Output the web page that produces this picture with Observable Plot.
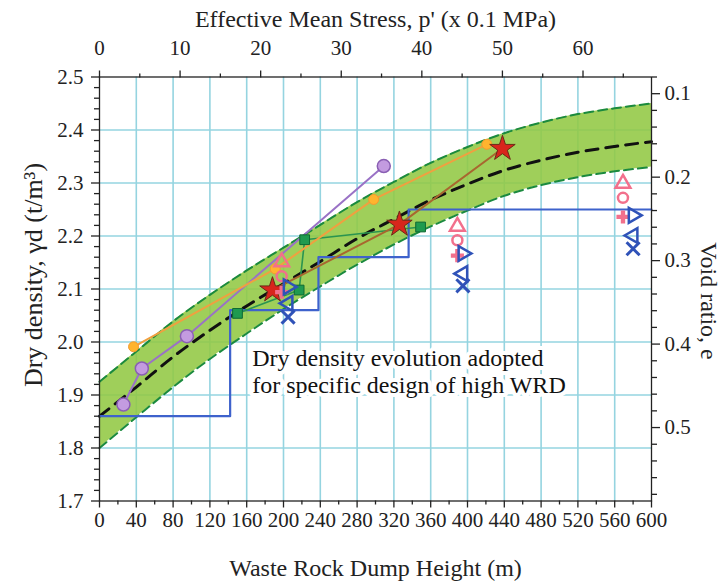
<!DOCTYPE html>
<html><head><meta charset="utf-8">
<script src="https://cdn.jsdelivr.net/npm/d3@7"></script>
<script src="https://cdn.jsdelivr.net/npm/@observablehq/plot@0.6"></script>
<style>
body{margin:0;background:#fff}
svg, svg text, svg g {font-family:"Liberation Serif","Times New Roman",serif !important}
</style>
</head><body><div id="chart"></div>
<script>
// ---- axis / tick values ----
const heightMajor = d3.range(0, 601, 40);
const heightMinor = d3.range(20, 600, 40);
const densityMajor = [1.7, 1.8, 1.9, 2.0, 2.1, 2.2, 2.3, 2.4, 2.5];
const densityMinor = d3.range(1.72, 2.5, 0.02).filter(v => Math.abs(v * 10 - Math.round(v * 10)) > 1e-6);
const densityGrid = [1.8, 1.9, 2.0, 2.1, 2.2, 2.3, 2.4];
const heightGrid = d3.range(40, 600, 40);
const stressMajor = [0, 10, 20, 30, 40, 50, 60];
const stressMinor = [5, 15, 25, 35, 45, 55, 65];
const stressMax = 68.5;           // p' at 600 m
const voidMajor = [0.1, 0.2, 0.3, 0.4, 0.5];
const voidMinor = [0.08, 0.12, 0.14, 0.16, 0.18, 0.22, 0.24, 0.26, 0.28, 0.32, 0.34, 0.36, 0.38, 0.42, 0.44, 0.46, 0.48, 0.52, 0.54, 0.56, 0.58];
const voidTop = 0.08, voidBottom = 0.588; // e at γd = 2.5 and 1.7

// ---- envelope band ----
const bandH      = [0, 40, 80, 120, 160, 200, 240, 280, 320, 360, 400, 440, 480, 520, 560, 600];
const bandUpper  = [1.925, 1.982, 2.039, 2.089, 2.135, 2.178, 2.221, 2.264, 2.302, 2.338, 2.368, 2.394, 2.414, 2.430, 2.441, 2.450];
const bandCenter = [1.860, 1.915, 1.972, 2.022, 2.068, 2.110, 2.152, 2.195, 2.232, 2.268, 2.298, 2.324, 2.343, 2.358, 2.369, 2.378];
const bandLower  = [1.800, 1.858, 1.915, 1.968, 2.016, 2.062, 2.105, 2.146, 2.184, 2.218, 2.248, 2.276, 2.296, 2.311, 2.322, 2.330];

// ---- design step line ----
const stepH = [0, 142, 238, 336, 600];
const stepD = [1.86, 2.06, 2.16, 2.25, 2.25];

// ---- test series ----
const purpleH = [26, 46, 95, 309];
const purpleD = [1.882, 1.950, 2.011, 2.332];
const orangeH = [37, 191, 298, 421];
const orangeD = [1.991, 2.138, 2.269, 2.373];
const starH = [188, 326, 438];
const starD = [2.098, 2.222, 2.365];
const squareH = [150, 217, 223, 349];
const squareD = [2.054, 2.098, 2.193, 2.217];

// ---- field markers ----
const pinkH = [198, 389, 569];
const pinkTriD = [2.151, 2.218, 2.299];
const pinkCircD = [2.124, 2.192, 2.272];
const pinkPlusD = [2.094, 2.163, 2.236];
const blueH = [205, 395, 580];
const blueRightD = [2.104, 2.167, 2.239];
const blueLeftD = [2.073, 2.129, 2.201];
const blueXD = [2.047, 2.106, 2.176];

const annotation = {h: 166, d: 1.946, text: "Dry density evolution adopted\nfor specific design of high WRD"};

const zip = (xs, ys) => xs.map((x, i) => ({x, y: ys[i]}));
const band = bandH.map((h, i) => ({h, hi: bandUpper[i], mid: bandCenter[i], lo: bandLower[i]}));
const hOfP = p => p * 600 / stressMax;
const pOfH = h => Math.round(h * stressMax / 600);
const dOfE = e => 2.5 - (e - voidTop) * 0.8 / (voidBottom - voidTop);
const eOfD = d => voidTop + (2.5 - d) * (voidBottom - voidTop) / 0.8;

const FF = "Liberation Serif";
const tickFont = 21, titleFont = 24;
const pinkC = "#f2708c", blueC = "#2f52b8";

const chart = Plot.plot({
  width: 724, height: 584,
  marginTop: 76.5, marginRight: 73, marginBottom: 83.5, marginLeft: 99,
  style: {fontFamily: FF, fontSize: tickFont + "px", color: "#222", background: "white", overflow: "visible"},
  x: {domain: [0, 600]},
  y: {domain: [1.7, 2.5]},
  marks: [
    Plot.gridX(heightGrid, {stroke: "#95d4e0", strokeOpacity: 1, strokeWidth: 1.6}),
    Plot.gridY(densityGrid, {stroke: "#95d4e0", strokeOpacity: 1, strokeWidth: 1.6}),
    Plot.areaY(band, {x: "h", y1: "lo", y2: "hi", fill: "#92c843", fillOpacity: 0.88, curve: "monotone-x"}),
    Plot.line(band, {x: "h", y: "hi", stroke: "#1b8a3e", strokeWidth: 2, strokeDasharray: "9,5", curve: "monotone-x"}),
    Plot.line(band, {x: "h", y: "lo", stroke: "#1b8a3e", strokeWidth: 2, strokeDasharray: "9,5", curve: "monotone-x"}),
    Plot.line(band, {x: "h", y: "mid", stroke: "#111", strokeWidth: 3, strokeDasharray: "12,8", curve: "monotone-x"}),
    Plot.line(zip(stepH, stepD), {x: "x", y: "y", stroke: "#3e62cc", strokeWidth: 2.2, curve: "step-after"}),
    Plot.line(zip(squareH, squareD), {x: "x", y: "y", stroke: "#2a9450", strokeWidth: 1.6}),
    Plot.line(zip(purpleH, purpleD), {x: "x", y: "y", stroke: "#9a72c6", strokeWidth: 2}),
    Plot.line(zip(orangeH, orangeD), {x: "x", y: "y", stroke: "#f0a040", strokeWidth: 2}),
    Plot.line(zip(starH, starD), {x: "x", y: "y", stroke: "#a8672f", strokeWidth: 2}),
    Plot.dot(zip(squareH, squareD), {x: "x", y: "y", symbol: "square", r: 5.5, fill: "#1f9a4f", stroke: "#0e6a33", strokeWidth: 1}),
    Plot.dot(zip(purpleH, purpleD), {x: "x", y: "y", r: 6.5, fill: "#c39be0", stroke: "#8a5fb3", strokeWidth: 1.5}),
    Plot.dot(zip(orangeH, orangeD), {x: "x", y: "y", r: 5, fill: "#ffb42e", stroke: "#f39a30", strokeWidth: 1}),
    Plot.dot(zip(starH, starD), {x: "x", y: "y", symbol: "star", r: 8, fill: "#d8261c", stroke: "#6b2a18", strokeWidth: 1}),
    Plot.dot(zip(pinkH, pinkTriD), {x: "x", y: "y", symbol: "triangle", r: 5.5, fill: "none", stroke: pinkC, strokeWidth: 2.5}),
    Plot.dot(zip(pinkH, pinkCircD), {x: "x", y: "y", r: 5, fill: "none", stroke: pinkC, strokeWidth: 2.5}),
    Plot.dot(zip(pinkH, pinkPlusD), {x: "x", y: "y", symbol: "cross", r: 5.5, fill: pinkC, stroke: "none"}),
    Plot.dot(zip(blueH, blueRightD), {x: "x", y: "y", symbol: "triangle", rotate: 90, r: 5.5, fill: "none", stroke: blueC, strokeWidth: 2.5}),
    Plot.dot(zip(blueH, blueLeftD), {x: "x", y: "y", symbol: "triangle", rotate: -90, r: 5.5, fill: "none", stroke: blueC, strokeWidth: 2.5}),
    Plot.dot(zip(blueH, blueXD), {x: "x", y: "y", symbol: "times", r: 6, stroke: blueC, strokeWidth: 3}),
    Plot.text([annotation], {x: "h", y: "d", text: "text", textAnchor: "start", lineAnchor: "middle", lineHeight: 1.13, fontSize: titleFont, fontFamily: FF, fill: "#111", stroke: "white", strokeWidth: 8}),
    Plot.frame({stroke: "#222", strokeWidth: 1.3}),
    // bottom axis
    Plot.axisX(heightMajor, {anchor: "bottom", tickSize: 7, tickPadding: 4, fontSize: tickFont, fontFamily: FF, label: null, stroke: "#222", strokeWidth: 1.3}),
    Plot.axisX(heightMinor, {anchor: "bottom", tickSize: 4, tickFormat: () => "", label: null, stroke: "#222", strokeWidth: 1.3}),
    // top axis (effective mean stress)
    Plot.axisX(stressMajor.map(hOfP), {anchor: "top", tickSize: 7, tickPadding: 15, fontSize: tickFont, fontFamily: FF, tickFormat: pOfH, label: null, stroke: "#222", strokeWidth: 1.3}),
    Plot.axisX(stressMinor.map(hOfP), {anchor: "top", tickSize: 4, tickFormat: () => "", label: null, stroke: "#222", strokeWidth: 1.3}),
    // left axis
    Plot.axisY(densityMajor, {anchor: "left", tickSize: 8, tickPadding: 8, fontSize: tickFont, fontFamily: FF, tickFormat: d3.format(".1f"), label: null, stroke: "#222", strokeWidth: 1.3}),
    Plot.axisY(densityMinor, {anchor: "left", tickSize: 5, tickFormat: () => "", label: null, stroke: "#222", strokeWidth: 1.3}),
    // right axis (void ratio)
    Plot.axisY(voidMajor.map(dOfE), {anchor: "right", tickSize: 8, tickPadding: 5, fontSize: tickFont, fontFamily: FF, tickFormat: d => d3.format(".1f")(eOfD(d)), label: null, stroke: "#222", strokeWidth: 1.3}),
    Plot.axisY(voidMinor.map(dOfE), {anchor: "right", tickSize: 5, tickFormat: () => "", label: null, stroke: "#222", strokeWidth: 1.3}),
    // titles
    Plot.text(["Effective Mean Stress, p' (x 0.1 MPa)"], {frameAnchor: "top", dy: -58, lineAnchor: "middle", fontSize: titleFont, fontFamily: FF, fill: "#222"}),
    Plot.text(["Waste Rock Dump Height (m)"], {frameAnchor: "bottom", dy: 67, lineAnchor: "middle", fontSize: titleFont, fontFamily: FF, fill: "#222"}),
    Plot.text(["Dry density, γd (t/m³)"], {frameAnchor: "left", dx: -66, dy: -14, rotate: -90, textAnchor: "middle", lineAnchor: "middle", fontSize: 26, fontFamily: FF, fill: "#222"}),
    Plot.text(["Void ratio, e"], {frameAnchor: "right", dx: 57, dy: 12, rotate: 90, textAnchor: "middle", lineAnchor: "middle", fontSize: titleFont, fontFamily: FF, fill: "#222"})
  ]
});
document.getElementById("chart").appendChild(chart);
</script>
</body></html>
